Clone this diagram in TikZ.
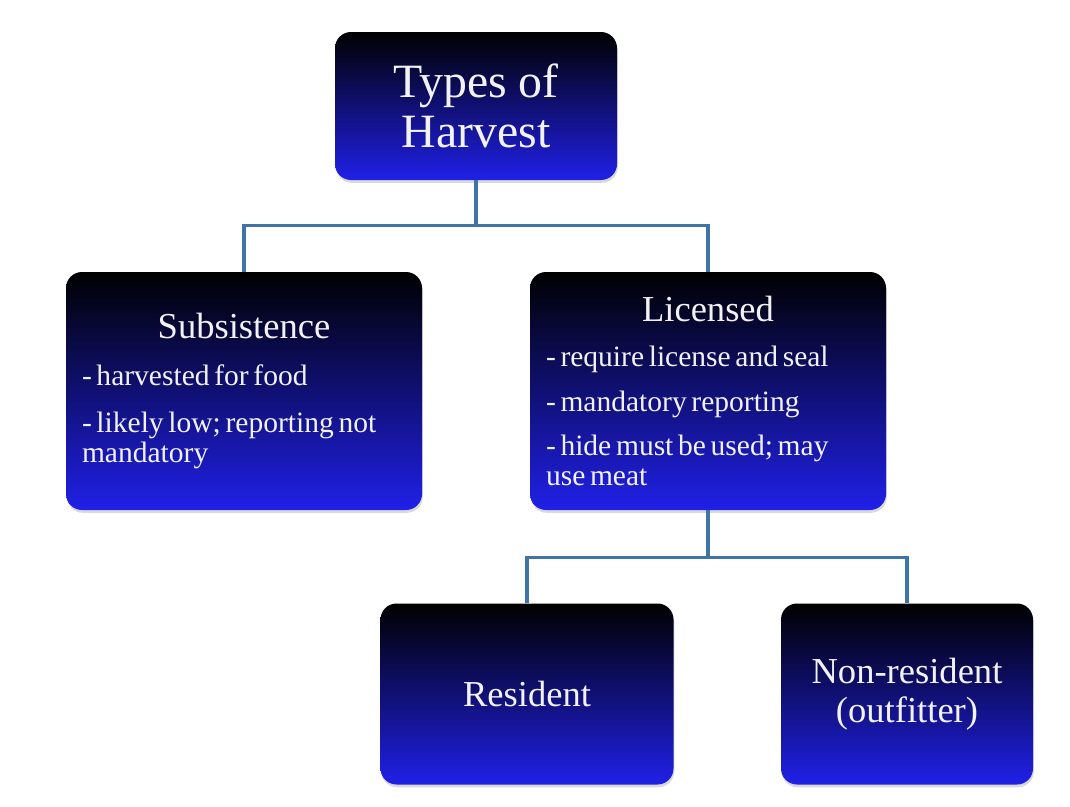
\documentclass[tikz,border=0pt]{standalone}
\usepackage{fontspec}
\setmainfont{Liberation Serif}
\usetikzlibrary{shadows}
\definecolor{boxblue}{RGB}{32,32,232}
\definecolor{linkblue}{RGB}{62,116,166}
\definecolor{boxtext}{RGB}{242,242,246}
\begin{document}
\begin{tikzpicture}[
	harvbox/.style={rounded corners=0.4cm, top color=black, bottom color=boxblue, text=boxtext, inner sep=0.4cm,
		drop shadow={shadow xshift=0.6pt, shadow yshift=-2pt, opacity=0.3}},
	link/.style={line width=2.2pt, draw=linkblue},
	titlefont/.style={font=\fontsize{26}{28}\selectfont}
]
		\useasboundingbox (0,0) rectangle (26.75,-20.175);
		% top of the tree
		\node [harvbox, minimum width=7.05cm, minimum height=3.7cm, align=center, font=\fontsize{34}{36}\selectfont] (types) at (11.9,-2.65) {Types of\\Harvest};
		% second row
		\node [harvbox, text width=8.1cm, minimum height=5.95cm] (subs) at (6.1,-9.775)
			{{\centering\fontsize{26}{28}\selectfont Subsistence\par}\vspace{12pt}
			{\raggedright\fontsize{21}{21.5}\selectfont - harvested for food\par\vspace{12pt}
			- likely low; reporting not\\mandatory\par}};
		\node [harvbox, text width=8.1cm, minimum height=5.95cm] (lic) at (17.7,-9.775)
			{{\centering\fontsize{26}{28}\selectfont Licensed\par}\vspace{11pt}
			{\raggedright\fontsize{21}{21.5}\selectfont - require license and seal\par\vspace{10pt}
			- mandatory reporting\par\vspace{10pt}
			- hide must be used; may\\use meat\par}};
		% third row
		\node [harvbox, titlefont, minimum width=7.325cm, minimum height=4.525cm] (res) at (13.175,-17.35) {Resident};
		\node [harvbox, titlefont, align=center, minimum width=6.3cm, minimum height=4.525cm] (nonres) at (22.675,-17.35) {Non-resident\\(outfitter)};
		% connectors
		\draw [link] (types.south) -- ++(0,-1.125) -| (subs.north);
		\draw [link] (types.south) -- ++(0,-1.125) -| (lic.north);
		\draw [link] (lic.south) -- ++(0,-1.175) -| (res.north);
		\draw [link] (lic.south) -- ++(0,-1.175) -| (nonres.north);
\end{tikzpicture}
\end{document}
